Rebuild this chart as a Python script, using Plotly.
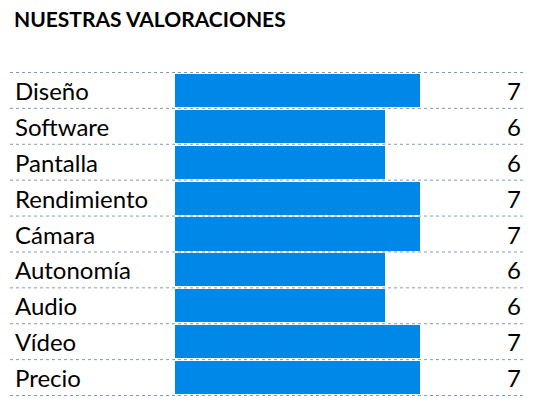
import plotly.graph_objects as go

categories = ["Diseño", "Software", "Pantalla", "Rendimiento", "Cámara", "Autonomía", "Audio", "Vídeo", "Precio"]
scores = [7, 6, 6, 7, 7, 6, 6, 7, 7]

OFF = 8
W, H = 534 - OFF, 404 - OFF
def px(x): return (x - OFF) / W
def py(y): return 1 - (y - OFF) / H

fig = go.Figure(go.Bar(x=scores, y=categories, orientation="h", width=0.92,
                       marker=dict(color="#0088E8", line=dict(width=0)), hoverinfo="skip"))

ann = [dict(text="<b>NUESTRAS VALORACIONES</b>", x=px(12), y=py(18), xref="paper", yref="paper",
            xanchor="left", yanchor="middle", showarrow=False, font=dict(size=21, color="#000"))]
shapes = []
for i, (c, s) in enumerate(zip(categories, scores)):
    ann.append(dict(text=c, x=px(13), y=c, xref="paper", yref="y", xanchor="left", yanchor="middle",
                    showarrow=False, font=dict(size=24, color="#000")))
    ann.append(dict(text=str(s), x=px(523), y=c, xref="paper", yref="y", xanchor="right", yanchor="middle",
                    showarrow=False, font=dict(size=24, color="#000")))
for i in range(len(categories) + 1):
    shapes.append(dict(type="line", xref="paper", yref="y", x0=px(10), x1=px(525), y0=i-0.5, y1=i-0.5,
                       line=dict(color="#7f9fb0", width=1, dash="dot")))

fig.update_layout(width=W, height=H, margin=dict(l=0, r=0, t=0, b=0), showlegend=False,
                  paper_bgcolor="white", plot_bgcolor="white", font=dict(family="Lato, Carlito, sans-serif"),
                  annotations=ann, shapes=shapes, bargap=0)
fig.update_xaxes(range=[0, 10], domain=[px(175), px(525)], visible=False)
fig.update_yaxes(autorange="reversed", domain=[py(396), py(72)], visible=False)
fig.write_html("out.html")
